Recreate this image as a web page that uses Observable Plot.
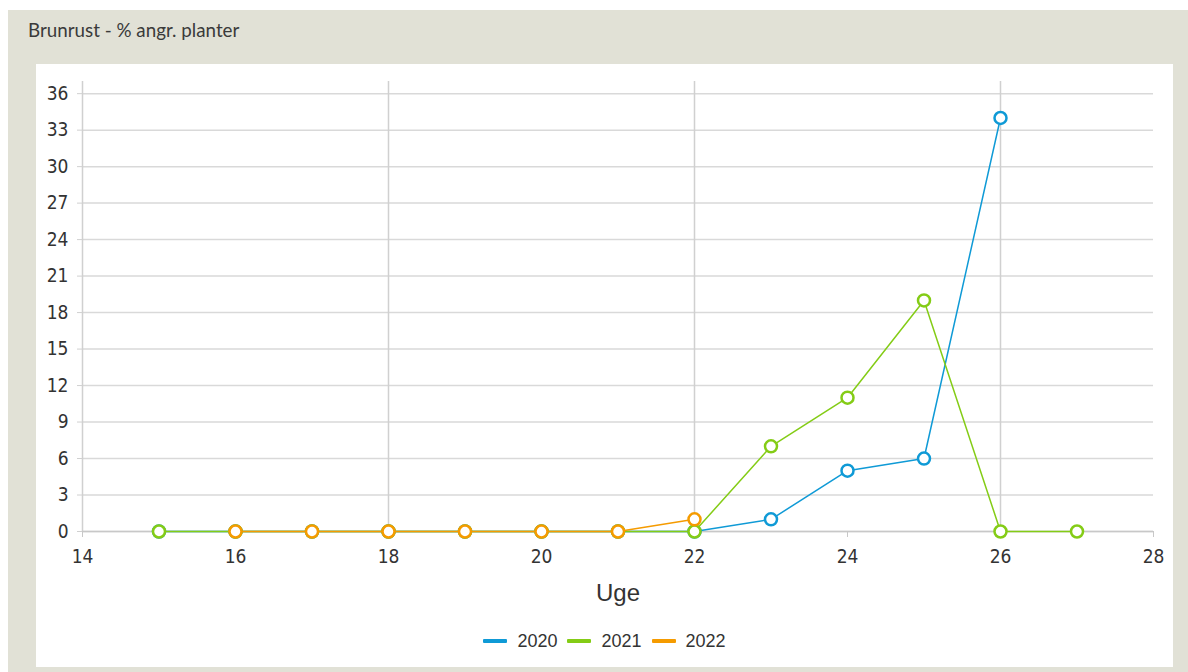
<!DOCTYPE html>
<html><head><meta charset="utf-8">
<script src="https://cdn.jsdelivr.net/npm/d3@7"></script>
<script src="https://cdn.jsdelivr.net/npm/@observablehq/plot@0.6"></script>
<style>
body{margin:0;background:#fff;width:1188px;height:672px;overflow:hidden;position:relative;font-family:"Open Sans",sans-serif}
#panel{position:absolute;left:8px;top:10px;width:1180px;height:662px;background:#e1e1d6}
#title{position:absolute;left:20px;top:8px;font-size:18.8px;color:#3a3a3a;font-family:Lato,"Open Sans",sans-serif}
#inner{position:absolute;left:28px;top:54px;width:1137px;height:603px;background:#fff}
#chart{position:absolute;left:0;top:0}
#legend{position:absolute;left:0;width:1137px;top:565px;height:24px;display:flex;justify-content:center;align-items:center;gap:10px;font-family:"Liberation Sans",Arial,sans-serif;font-size:18px;color:#333}
.item{display:flex;align-items:center;gap:10px}
.sw{width:24px;height:4px;border-radius:1px}
</style></head>
<body>
<div id="panel">
  <div id="title">Brunrust - % angr. planter</div>
  <div id="inner"><div id="chart"></div><div id="legend"></div></div>
</div>
<script>
const years = ["2020", "2021", "2022"];
const colors = ["#0f9ad6", "#84cc16", "#f59b00"];
const weeks2020 = [15, 16, 17, 18, 19, 20, 21, 22, 23, 24, 25, 26];
const values2020 = [0, 0, 0, 0, 0, 0, 0, 0, 1, 5, 6, 34];
const weeks2021 = [15, 16, 17, 18, 19, 20, 21, 22, 23, 24, 25, 26, 27];
const values2021 = [0, 0, 0, 0, 0, 0, 0, 0, 7, 11, 19, 0, 0];
const weeks2022 = [16, 17, 18, 19, 20, 21, 22];
const values2022 = [0, 0, 0, 0, 0, 0, 1];
const xTicks = [14, 16, 18, 20, 22, 24, 26, 28];
const xGrid = [14, 18, 22, 26];
const yTicks = [0, 3, 6, 9, 12, 15, 18, 21, 24, 27, 30, 33, 36];
const xLabel = "Uge";

const seriesList = [
  {year: years[0], color: colors[0], data: weeks2020.map((w, i) => ({week: w, value: values2020[i]}))},
  {year: years[1], color: colors[1], data: weeks2021.map((w, i) => ({week: w, value: values2021[i]}))},
  {year: years[2], color: colors[2], data: weeks2022.map((w, i) => ({week: w, value: values2022[i]}))}
];

const tickFont = "'DejaVu Sans Condensed', 'Liberation Sans Narrow', sans-serif";

const chart = Plot.plot({
  width: 1137,
  height: 557,
  marginLeft: 46,
  marginRight: 20,
  marginTop: 17,
  marginBottom: 90,
  style: {fontFamily: tickFont, fontSize: "18px", color: "#333", background: "transparent"},
  x: {domain: [14, 28]},
  y: {domain: [0, 37]},
  marks: [
    Plot.ruleY(yTicks, {y: d => d, x1: 14, x2: 28, stroke: "#d9d9d9", strokeWidth: 1.5}),
    Plot.ruleX(xGrid, {x: d => d, y1: 0, y2: 37, stroke: "#d0d0d0", strokeWidth: 1.5}),
    Plot.axisY(yTicks, {tickSize: 5, tickPadding: 9, stroke: "#d0d0d0", fill: "#333", fontSize: 19, label: null}),
    Plot.axisX(xTicks, {tickSize: 6, tickPadding: 12, stroke: "#c8c8c8", fill: "#333", fontSize: 19, label: null}),
    Plot.ruleY([0], {x1: 14, x2: 28, stroke: "#c8c8c8", strokeWidth: 1.5}),
    Plot.text([xLabel], {frameAnchor: "bottom", dy: 69, fontSize: 24, fill: "#333", fontFamily: "'Liberation Sans', Arial, sans-serif"}),
    ...seriesList.flatMap(s => [
      Plot.line(s.data, {x: "week", y: "value", stroke: s.color, strokeWidth: 1.5}),
      Plot.dot(s.data, {x: "week", y: "value", r: 6, fill: "white", stroke: s.color, strokeWidth: 2.5})
    ])
  ]
});
document.getElementById("chart").appendChild(chart);

const legend = d3.select("#legend");
seriesList.forEach(s => {
  const it = legend.append("div").attr("class", "item");
  it.append("div").attr("class", "sw").style("background", s.color);
  it.append("span").text(s.year);
});
</script>
</body></html>
